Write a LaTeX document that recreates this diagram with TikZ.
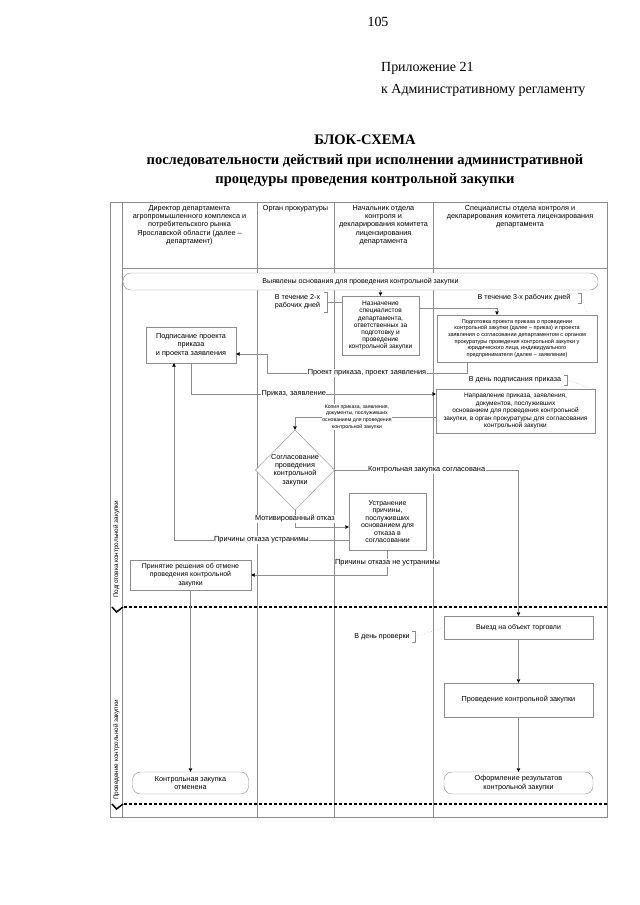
\documentclass[tikz,border=0pt]{standalone}
\usepackage{fontspec}
\setmainfont{Liberation Serif}
\setsansfont{Liberation Sans}
\usetikzlibrary{arrows.meta,positioning,shapes.geometric}
\definecolor{lanegray}{HTML}{8C8C8C}

\begin{document}
\begin{tikzpicture}[
  x=1bp, y=-1bp,
  every node/.style={inner sep=1bp},
  box/.style={draw=lanegray, fill=white, align=center, font=\sffamily\fontsize{7.3}{8.3}\selectfont},
  term/.style={box, rounded corners=8bp},
  decision/.style={box, diamond, aspect=1, inner sep=0pt},
  hdr/.style={align=center, font=\sffamily\fontsize{7.3}{8.3}\selectfont},
  note/.style={align=center, font=\sffamily\fontsize{7.2}{8.3}\selectfont},
  lbl/.style={fill=white, inner sep=0.5bp, align=center, font=\sffamily\fontsize{7.4}{8.3}\selectfont},
  arrow/.style={draw=lanegray, -{Triangle[length=3.5bp,width=3.5bp,color=black]}},
  link/.style={draw=lanegray},
  dotlink/.style={draw=lanegray, dotted},
  phase/.style={black, line width=1.5bp, dash pattern=on 3bp off 2bp},
  chev/.style={black, line width=1.5bp}
]
\useasboundingbox (0,0) rectangle (640,905);

% heading
\node[font=\fontsize{14}{17}\selectfont] (pagenum) at (378,22) {105};
\node[anchor=west, align=left, font=\fontsize{14}{22}\selectfont] (annex) at (380,79) {Приложение 21\\к Административному регламенту};
\node[align=center, font=\fontsize{14.6}{19.5}\selectfont\bfseries] (title) at (365,161) {БЛОК-СХЕМА\\последовательности действий при исполнении административной\\процедуры проведения контрольной закупки};

% lanes
\draw[lanegray] (110,202) rectangle (607,817);
\foreach \x in {122,257,334,433} \draw[lanegray] (\x,202) -- (\x,817);
\draw[lanegray] (122,268) -- (607,268);

\node[hdr, anchor=north] (hdir) at (189.5,204) {Директор департамента\\агропромышленного комплекса и\\потребительского рынка\\Ярославской области (далее –\\департамент)};
\node[hdr, anchor=north] (hpros) at (295.5,204) {Орган прокуратуры};
\node[hdr, anchor=north] (hhead) at (383.5,204) {Начальник отдела\\контроля и\\декларирования комитета\\лицензирования\\департамента};
\node[hdr, anchor=north] (hspec) at (520,204) {Специалисты отдела контроля и\\декларирования комитета лицензирования\\департамента};

% phases
\draw[phase] (124,607) -- (607,607);
\draw[phase] (124,804) -- (607,804);
\draw[chev] (112,607) -- (116.5,612) -- (123,607);
\draw[chev] (112,804) -- (116.5,809) -- (123,804);
\node[note, rotate=90, anchor=west, font=\sffamily\fontsize{6.4}{7}\selectfont] (ph1) at (116.5,599) {Подготовка контрольной закупки};
\node[note, rotate=90, anchor=west, font=\sffamily\fontsize{6.4}{7}\selectfont] (ph2) at (116.5,801) {Проведение контрольной закупки};

% steps
\node[term, minimum width=475bp, minimum height=17bp, font=\sffamily\fontsize{7.1}{8}\selectfont] (start) at (360.5,281.5) {Выявлены основания для проведения контрольной закупки};
\node[box, minimum width=77bp, minimum height=59bp, font=\sffamily\fontsize{6.6}{7.1}\selectfont] (assign) at (380.5,325.5) {Назначение\\специалистов\\департамента,\\ответственных за\\подготовку и\\проведение\\контрольной закупки};
\node[box, minimum width=160bp, minimum height=47bp, font=\sffamily\fontsize{5.6}{6.7}\selectfont] (prep) at (517,338.5) {Подготовка проекта приказа о проведении\\контрольной закупки (далее – приказ) и проекта\\заявления о согласовании департаментом с органом\\прокуратуры проведения контрольной закупки у\\юридического лица, индивидуального\\предпринимателя (далее – заявление)};
\node[box, minimum width=90bp, minimum height=36bp] (sign) at (191,345) {Подписание проекта\\приказа\\и проекта заявления};
\node[box, minimum width=159bp, minimum height=44bp, font=\sffamily\fontsize{6.5}{7.5}\selectfont] (send) at (515.5,411) {Направление приказа, заявления,\\документов, послуживших\\основанием для проведения контрольной\\закупки, в орган прокуратуры для согласования\\контрольной закупки};
\node[decision, minimum width=78bp, minimum height=80bp] (agree) at (295,470) {Согласование\\проведения\\контрольной\\закупки};
\node[box, minimum width=77bp, minimum height=57bp, font=\sffamily\fontsize{7}{7.5}\selectfont] (fix) at (387.5,521.5) {Устранение\\причины,\\послуживших\\основанием для\\отказа в\\согласовании};
\node[box, minimum width=121bp, minimum height=30bp, font=\sffamily\fontsize{7}{8.3}\selectfont] (cancel) at (190.5,575) {Принятие решения об отмене\\проведения контрольной\\закупки};
\node[box, minimum width=149bp, minimum height=23bp, font=\sffamily\fontsize{7}{8.3}\selectfont] (visit) at (518.5,627.5) {Выезд на объект торговли};
\node[box, minimum width=149bp, minimum height=34bp] (conduct) at (518.5,700) {Проведение контрольной закупки};
\node[term, minimum width=116bp, minimum height=22bp] (endcancel) at (190.5,783) {Контрольная закупка\\отменена};
\node[term, minimum width=149bp, minimum height=22bp] (endresult) at (518.5,783) {Оформление результатов\\контрольной закупки};

% notes
\node[note, minimum width=59bp, minimum height=20bp] (note2) at (297.5,302) {В течение 2-х\\рабочих дней};
\node[note, minimum width=114bp, minimum height=9bp] (note3) at (524,298) {В течение 3-х рабочих дней};
\node[note, minimum width=104bp, minimum height=10bp] (note4) at (515,380) {В день подписания приказа};
\node[note, minimum width=66bp, minimum height=11bp] (note5) at (382,636.5) {В день проверки};
\foreach \n in {note2,note3,note4,note5}
  \draw[link] ([xshift=-3bp]\n.north east) -- (\n.north east) -- (\n.south east) -- ([xshift=-3bp]\n.south east);
\draw[link] (note2.east) -- (note2.east -| assign.west);
\draw[dotlink] (note3.east) -- ([xshift=-9bp]prep.north east);
\draw[dotlink] (note4.east) -- ([xshift=-2bp]send.north east);
\draw[dotlink] (note5.east) -- (visit.west);

% flow
\draw[arrow] (start.south -| assign.north) -- (assign.north);
\draw[arrow] ([yshift=17.5bp]assign.east) -| ([xshift=-20bp]prep.north);
\draw[arrow] ([xshift=-50bp]prep.south) |- node[lbl, pos=0.75] (lprj) {Проект приказа, проект заявления} (267,373) |- ([yshift=-9bp]sign.east);
\draw[arrow] (sign.south) |- node[lbl, pos=0.71] (lord) {Приказ, заявление} ([yshift=17bp]send.west);
\draw[arrow] ([yshift=-6bp]send.west) -| node[lbl, pos=0.28, font=\sffamily\fontsize{5.2}{6.8}\selectfont] (lcopy) {Копия приказа, заявления,\\документы, послуживших\\основанием для проведения\\контрольной закупки} (agree.north);
\draw[arrow] (agree.east) -| node[lbl, pos=0.25] (lok) {Контрольная закупка согласована} (visit.north);
\draw[arrow] (agree.south) |- node[lbl, pos=0.26] (lrej) {Мотивированный отказ} ([yshift=-5.5bp]fix.west);
\draw[arrow] ([yshift=-18.5bp]fix.west) -| node[lbl, pos=0.25] (lfixed) {Причины отказа устранимы} ([xshift=-17bp]sign.south);
\draw[arrow] (fix.south) |- node[lbl, pos=0.26] (lnofix) {Причины отказа не устранимы} (cancel.east);
\draw[arrow] (cancel.south) -- (endcancel.north);
\draw[arrow] (visit.south) -- (conduct.north);
\draw[arrow] (conduct.south) -- (endresult.north);
\end{tikzpicture}
\end{document}
